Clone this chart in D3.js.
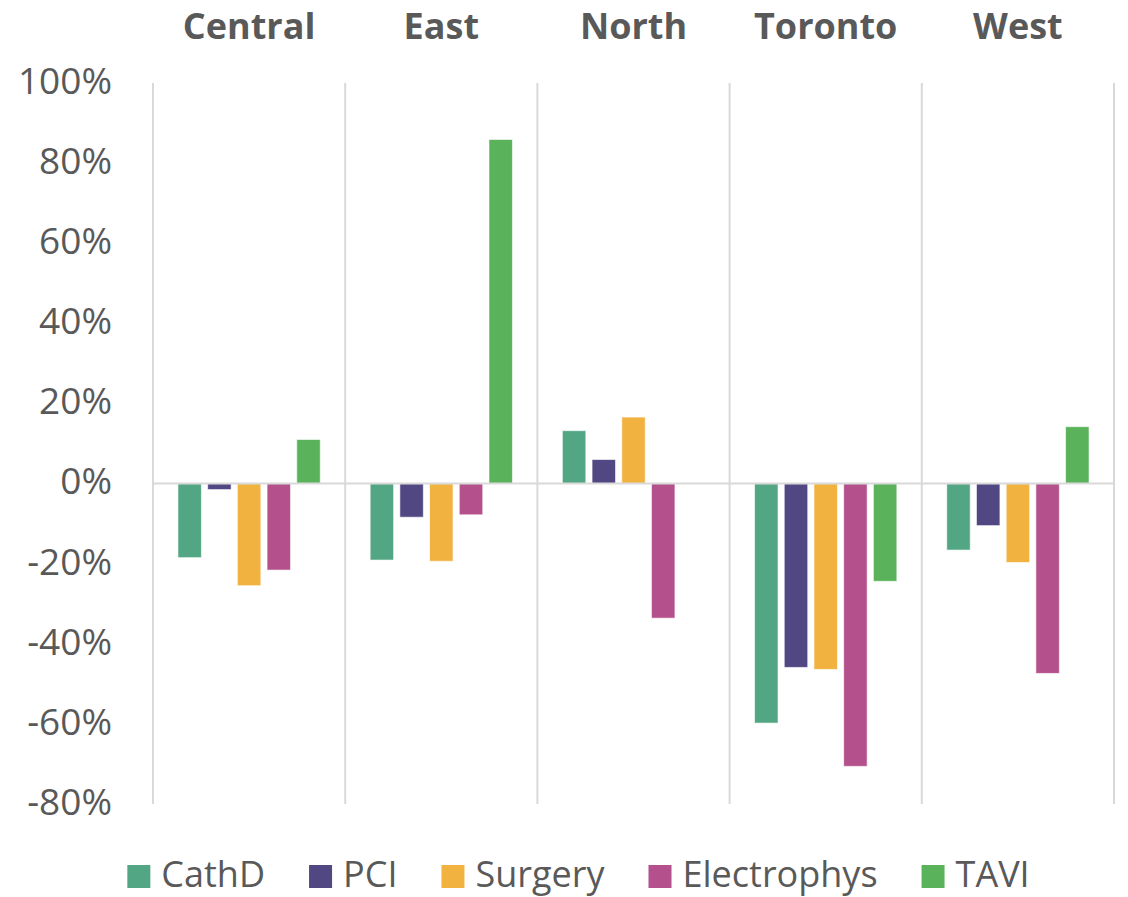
<!DOCTYPE html>
<html lang="en">
<head>
  <meta charset="UTF-8" />
  <title>Change by region</title>
  <script src="https://d3js.org/d3.v7.min.js"></script>
  <style>
    body {
      margin: 0;
      background-color: white;
    }
    svg {
      display: block;
      font-family: 'Open Sans', sans-serif;
    }
  </style>
</head>
<body>
  <script>
    // data
    const regions = ['Central', 'East', 'North', 'Toronto', 'West'];
    const series = ['CathD', 'PCI', 'Surgery', 'Electrophys', 'TAVI'];
    const colors = ['#52a683', '#514782', '#f1b240', '#b4508b', '#5ab25a'];
    const cathd = [-0.185, -0.191, 0.132, -0.598, -0.166];
    const pci = [-0.015, -0.084, 0.060, -0.459, -0.105];
    const surgery = [-0.255, -0.194, 0.166, -0.464, -0.197];
    const electrophys = [-0.216, -0.078, -0.336, -0.706, -0.474];
    const tavi = [0.110, 0.859, 0, -0.244, 0.142];
    const yTicks = [-0.8, -0.6, -0.4, -0.2, 0, 0.2, 0.4, 0.6, 0.8, 1.0];

    const values = [cathd, pci, surgery, electrophys, tavi];
    const rows = [];
    regions.forEach((r, i) => {
      series.forEach((s, j) => {
        rows.push({ region: r, series: s, value: values[j][i], color: colors[j] });
      });
    });

    const w = 1128;
    const h = 897;
    const plotLeft = 153;
    const plotRight = 1114;
    const plotTop = 83;
    const plotBottom = 804;
    const textColor = '#595959';
    const gridColor = '#d9d9d9';

    const svg = d3.select('body')
      .append('svg')
      .attr('width', w)
      .attr('height', h);

    const xRegion = d3.scaleBand()
      .domain(regions)
      .range([plotLeft, plotRight]);

    const xSeries = d3.scaleBand()
      .domain(series)
      .range([0, xRegion.bandwidth()])
      .paddingInner(0.21)
      .paddingOuter(0.84);

    const yScale = d3.scaleLinear()
      .domain([-0.8, 1.0])
      .range([plotBottom, plotTop]);

    // y axis labels
    const yAxis = d3.axisLeft(yScale)
      .tickValues(yTicks)
      .tickSize(0)
      .tickPadding(41)
      .tickFormat(d => Math.round(d * 100) + '%');

    svg.append('g')
      .attr('transform', `translate(${plotLeft},0)`)
      .call(yAxis)
      .call(g => g.select('.domain').remove())
      .selectAll('text')
      .attr('fill', textColor)
      .attr('dy', '0.28em')
      .style('font-family', "'Open Sans', sans-serif")
      .style('font-size', '37px');

    // panel separators
    const edges = regions.map(r => xRegion(r)).concat([plotRight]);
    svg.selectAll('.sep')
      .data(edges)
      .enter()
      .append('line')
      .attr('class', 'sep')
      .attr('x1', d => d)
      .attr('x2', d => d)
      .attr('y1', plotTop)
      .attr('y2', plotBottom)
      .attr('stroke', gridColor)
      .attr('stroke-width', 2);

    // bars
    svg.selectAll('.bar')
      .data(rows.filter(d => d.value !== 0))
      .enter()
      .append('rect')
      .attr('class', 'bar')
      .attr('x', d => xRegion(d.region) + xSeries(d.series))
      .attr('y', d => yScale(Math.max(0, d.value)))
      .attr('width', xSeries.bandwidth())
      .attr('height', d => Math.abs(yScale(d.value) - yScale(0)))
      .attr('fill', d => d.color)
      .attr('stroke', 'white')
      .attr('stroke-opacity', 0.6)
      .attr('stroke-width', 1);

    // zero line
    svg.append('line')
      .attr('x1', plotLeft)
      .attr('x2', plotRight)
      .attr('y1', yScale(0))
      .attr('y2', yScale(0))
      .attr('stroke', gridColor)
      .attr('stroke-width', 2);

    // region titles
    svg.selectAll('.title')
      .data(regions)
      .enter()
      .append('text')
      .attr('class', 'title')
      .attr('x', d => xRegion(d) + xRegion.bandwidth() / 2)
      .attr('y', 39)
      .attr('text-anchor', 'middle')
      .attr('fill', textColor)
      .style('font-size', '36px')
      .style('font-weight', 'bold')
      .text(d => d);

    // legend
    const legend = svg.append('g');
    let lx = 0;
    series.forEach((s, j) => {
      const item = legend.append('g').attr('transform', `translate(${lx},0)`);
      item.append('rect')
        .attr('x', 0)
        .attr('y', 865)
        .attr('width', 23)
        .attr('height', 23)
        .attr('fill', colors[j]);
      const t = item.append('text')
        .attr('x', 34)
        .attr('y', 887)
        .attr('fill', textColor)
        .style('font-size', '36px')
        .text(s);
      lx += 34 + t.node().getComputedTextLength() + 44;
    });
    const legendWidth = lx - 44;
    legend.attr('transform', `translate(${578.5 - legendWidth / 2},0)`);
  </script>
</body>
</html>
